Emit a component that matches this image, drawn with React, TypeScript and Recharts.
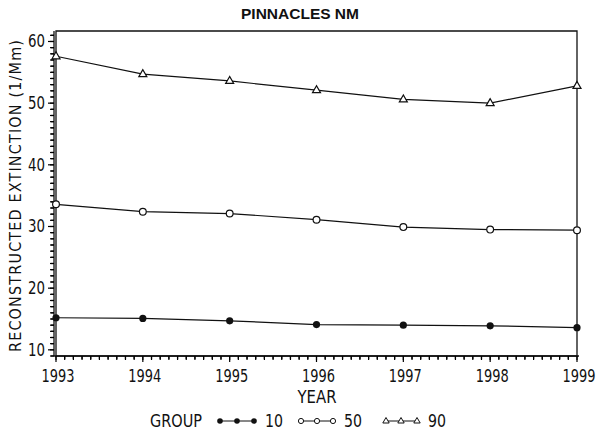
import { LineChart, Line, XAxis, YAxis, ReferenceLine, ReferenceArea, Customized } from "recharts";

const YEARS = [1993, 1994, 1995, 1996, 1997, 1998, 1999];
const GROUP_10 = [15.2, 15.1, 14.7, 14.1, 14.0, 13.9, 13.6];
const GROUP_50 = [33.6, 32.4, 32.1, 31.1, 29.9, 29.5, 29.4];
const GROUP_90 = [57.6, 54.7, 53.6, 52.1, 50.6, 50.0, 52.8];
const Y_LABELS = [10, 20, 30, 40, 50, 60];
const Y_DOMAIN = [9, 61.7];

const chartData = YEARS.map((year, i) => ({
  year,
  g10: GROUP_10[i],
  g50: GROUP_50[i],
  g90: GROUP_90[i],
}));

// minor ticks every 0.1 year and every 1 unit
const xTicks: number[] = [];
for (let i = 0; i <= (YEARS[YEARS.length - 1] - YEARS[0]) * 10; i++) {
  xTicks.push(Math.round((YEARS[0] + i / 10) * 10) / 10);
}
const yTicks: number[] = [];
for (let v = Y_DOMAIN[0]; v <= Math.floor(Y_DOMAIN[1]); v++) yTicks.push(v);

const FONT = '"DejaVu Sans Condensed", "DejaVu Sans", sans-serif';
const INK = "#111";
const TICK = 4;

// plot size in px, used to turn tick lengths into data units
const PLOT_W = 525;
const PLOT_H = 325;
const X_PAD = 2;
const PX_PER_YEAR = (PLOT_W - 2 * X_PAD) / (YEARS[YEARS.length - 1] - YEARS[0]);
const PX_PER_UNIT = PLOT_H / (Y_DOMAIN[1] - Y_DOMAIN[0]);
const X_LEFT = YEARS[0] - X_PAD / PX_PER_YEAR;

// narrow, evenly spaced lettering like the old plotter font
function NarrowText({ x, y, width, anchor = "start", size = 17, children }: any) {
  return (
    <text
      x={x}
      y={y}
      textAnchor={anchor}
      fontFamily={FONT}
      fontSize={size}
      textLength={width}
      lengthAdjust="spacingAndGlyphs"
      fill={INK}
    >
      {children}
    </text>
  );
}

function XTick(props: any) {
  const { x, y, payload } = props;
  if (!Number.isInteger(payload.value)) return <g />;
  return (
    <NarrowText x={x + 2} y={y + 22} width={33} anchor="middle">
      {payload.value}
    </NarrowText>
  );
}

function YTick(props: any) {
  const { x, y, payload } = props;
  if (!Y_LABELS.includes(payload.value)) return <g />;
  return (
    <NarrowText x={x - 5} y={y + 6} width={17} anchor="end">
      {payload.value}
    </NarrowText>
  );
}

function FilledDot(props: any) {
  const { cx, cy, key } = props;
  return <circle key={key} cx={cx} cy={cy} r={3.6} fill={INK} />;
}

function OpenDot(props: any) {
  const { cx, cy, key } = props;
  return <circle key={key} cx={cx} cy={cy} r={3.4} fill="#fff" stroke={INK} strokeWidth={1.2} />;
}

function TriDot(props: any) {
  const { cx, cy, key } = props;
  return (
    <polygon
      key={key}
      points={`${cx},${cy - 4.5} ${cx - 4},${cy + 2.5} ${cx + 4},${cy + 2.5}`}
      fill="#fff"
      stroke={INK}
      strokeWidth={1.2}
    />
  );
}

function LegendItem({ xs, label, marker }: { xs: number[]; label: string; marker: string }) {
  const y = 421;
  return (
    <g>
      <line x1={xs[0]} x2={xs[xs.length - 1]} y1={y} y2={y} stroke={INK} strokeWidth={1} />
      {xs.map((x) =>
        marker === "dot" ? (
          <circle key={x} cx={x} cy={y} r={2.8} fill={INK} />
        ) : marker === "circle" ? (
          <circle key={x} cx={x} cy={y} r={2.6} fill="#fff" stroke={INK} strokeWidth={1} />
        ) : (
          <polygon
            key={x}
            points={`${x},${y - 3.5} ${x - 3.2},${y + 2} ${x + 3.2},${y + 2}`}
            fill="#fff"
            stroke={INK}
            strokeWidth={1}
          />
        )
      )}
      <NarrowText x={xs[xs.length - 1] + 11} y={427} width={18}>
        {label}
      </NarrowText>
    </g>
  );
}

function Annotations() {
  return (
    <g>
      <text x={300} y={19} textAnchor="middle" fontFamily="'Liberation Sans', Arial, sans-serif" fontWeight="bold" fontSize={15.5} fill={INK}>
        PINNACLES NM
      </text>
      <text
        transform="rotate(-90)"
        x={-196}
        y={21}
        textAnchor="middle"
        fontFamily={FONT}
        fontSize={16}
        textLength={312}
        lengthAdjust="spacing"
        fill={INK}
      >
        RECONSTRUCTED EXTINCTION (1/Mm)
      </text>
      <NarrowText x={317} y={403} width={39} anchor="middle">
        YEAR
      </NarrowText>
      <NarrowText x={150} y={427} width={52}>
        GROUP
      </NarrowText>
      <LegendItem xs={[220, 237, 254]} label="10" marker="dot" />
      <LegendItem xs={[301, 317, 333]} label="50" marker="circle" />
      <LegendItem xs={[386, 401, 417]} label="90" marker="tri" />
    </g>
  );
}

export default function App() {
  return (
    <div style={{ position: "absolute", left: 0, top: 0, width: 600, height: 430, background: "#fff" }}>
      <LineChart width={600} height={430} data={chartData} margin={{ top: 31, right: 21, bottom: 44, left: 0 }}>
        <XAxis
          dataKey="year"
          type="number"
          domain={[YEARS[0], YEARS[YEARS.length - 1]]}
          ticks={xTicks}
          interval={0}
          padding={{ left: X_PAD, right: X_PAD }}
          height={30}
          tickSize={TICK}
          tickMargin={0}
          tickLine={{ stroke: "#000", strokeWidth: 1.2 }}
          tick={(p: any) => <XTick {...p} />}
          axisLine={{ stroke: INK, strokeWidth: 1.3 }}
        />
        <YAxis
          type="number"
          domain={Y_DOMAIN}
          allowDataOverflow
          ticks={yTicks}
          interval={0}
          width={54}
          tickSize={TICK}
          tickMargin={0}
          tickLine={{ stroke: "#000", strokeWidth: 1.2 }}
          tick={(p: any) => <YTick {...p} />}
          axisLine={{ stroke: INK, strokeWidth: 1.3 }}
        />
        {/* plot frame (top and right sides) */}
        <ReferenceArea
          y1={Y_DOMAIN[0]}
          y2={Y_DOMAIN[1]}
          fill="none"
          fillOpacity={0}
          stroke={INK}
          strokeWidth={1.3}
          ifOverflow="visible"
        />
        {xTicks.map((v) => (
          <ReferenceLine
            key={`xt${v}`}
            ifOverflow="visible"
            stroke="#000"
            strokeWidth={1.2}
            segment={[
              { x: v, y: Y_DOMAIN[0] },
              { x: v, y: Y_DOMAIN[0] - (Number.isInteger(v) ? 6 : 3) / PX_PER_UNIT },
            ]}
          />
        ))}
        {yTicks.map((v) => (
          <ReferenceLine
            key={`yt${v}`}
            ifOverflow="visible"
            stroke="#000"
            strokeWidth={1.2}
            segment={[
              { x: X_LEFT, y: v },
              { x: X_LEFT - (Y_LABELS.includes(v) ? 6 : 3) / PX_PER_YEAR, y: v },
            ]}
          />
        ))}
        <Line dataKey="g10" type="linear" stroke={INK} strokeWidth={1.2} dot={FilledDot} isAnimationActive={false} />
        <Line dataKey="g50" type="linear" stroke={INK} strokeWidth={1.2} dot={OpenDot} isAnimationActive={false} />
        <Line dataKey="g90" type="linear" stroke={INK} strokeWidth={1.2} dot={TriDot} isAnimationActive={false} />
        <Customized component={<Annotations />} />
      </LineChart>
    </div>
  );
}
